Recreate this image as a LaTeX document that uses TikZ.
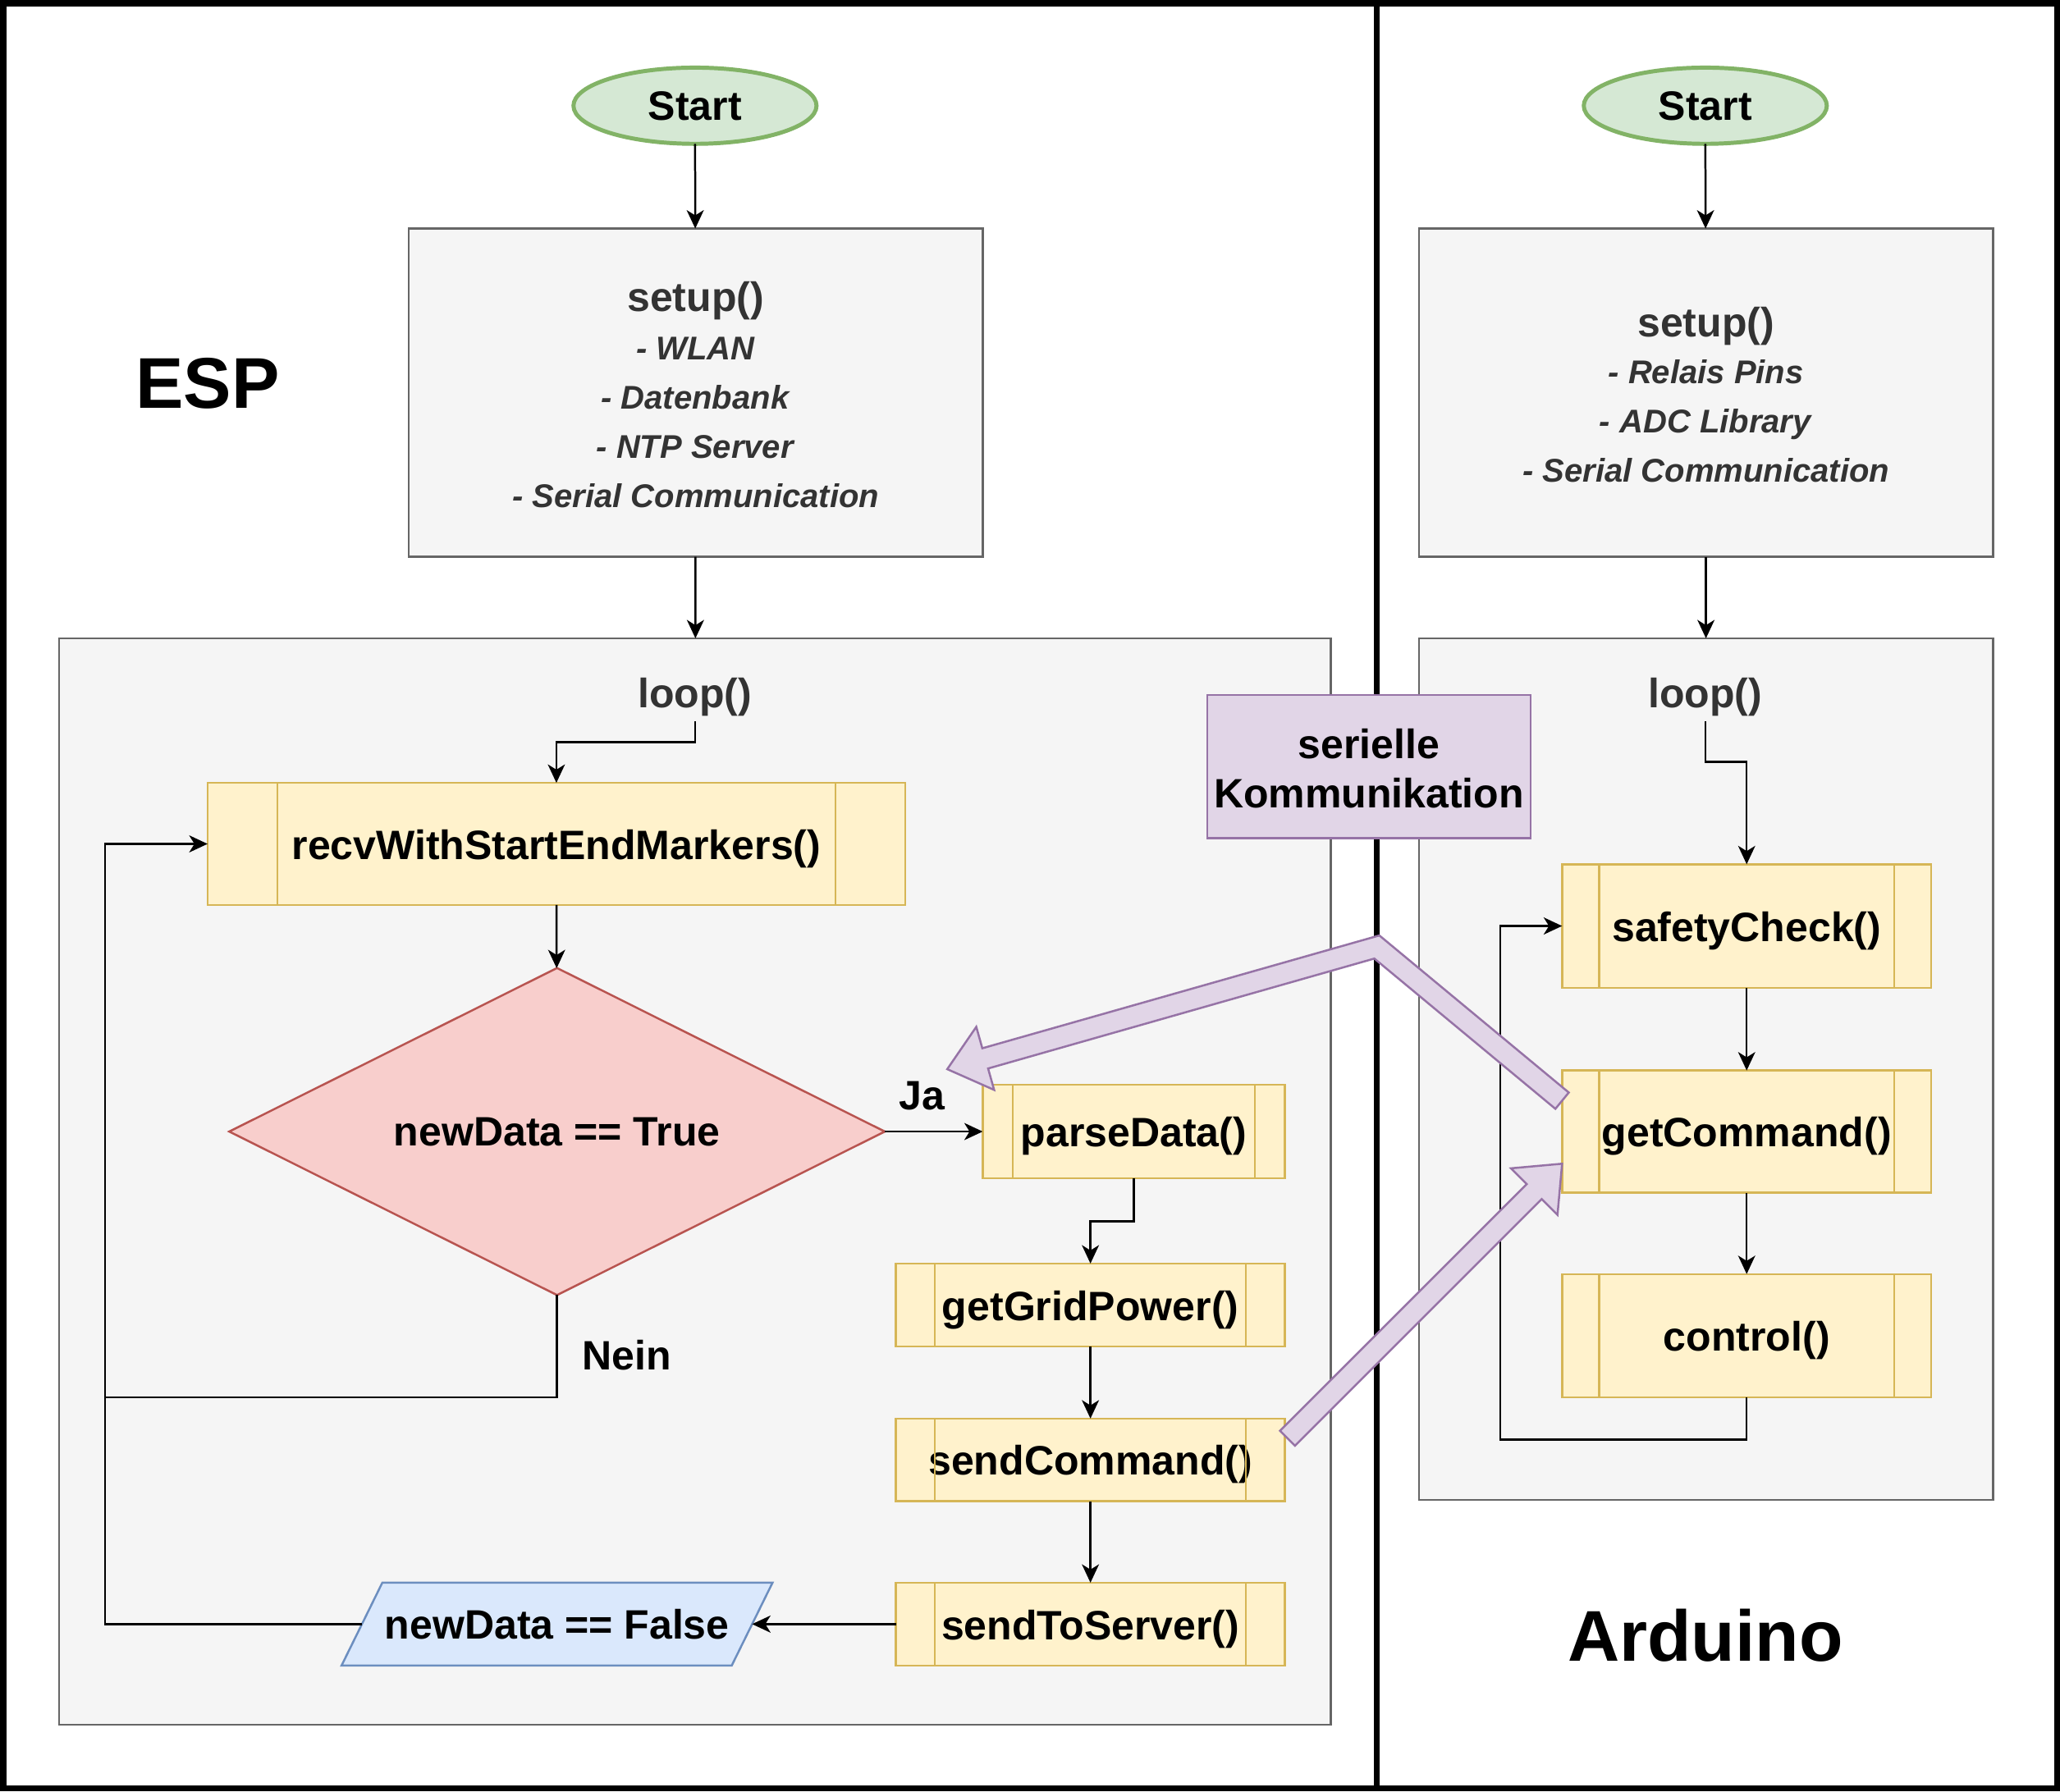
\documentclass[tikz,border=0pt]{standalone}
\usepackage{fontspec}
\setmainfont{Liberation Sans}
\usetikzlibrary{shapes.geometric,arrows.meta,calc}
\definecolor{gfill}{HTML}{D5E8D4}
\definecolor{gstroke}{HTML}{82B366}
\definecolor{grayfill}{HTML}{F5F5F5}
\definecolor{graystroke}{HTML}{666666}
\definecolor{darktext}{HTML}{333333}
\definecolor{yfill}{HTML}{FFF2CC}
\definecolor{ystroke}{HTML}{D6B656}
\definecolor{rfill}{HTML}{F8CECC}
\definecolor{rstroke}{HTML}{B85450}
\definecolor{bfill}{HTML}{DAE8FC}
\definecolor{bstroke}{HTML}{6C8EBF}
\definecolor{pfill}{HTML}{E1D5E7}
\definecolor{pstroke}{HTML}{9673A6}
\newcommand\proclines[1]{%
  \draw[line width=1.56pt, draw=ystroke]
    ($(#1.north west)!0.1!(#1.north east)$) -- ($(#1.south west)!0.1!(#1.south east)$)
    ($(#1.north west)!0.9!(#1.north east)$) -- ($(#1.south west)!0.9!(#1.south east)$);}
\tikzset{
  every node/.style={font=\bfseries\fontsize{31.25}{37.5}\selectfont, inner sep=0pt, outer sep=0pt, align=center},
  capcenter/.style={text height=23.4pt, text depth=0pt},
  startnode/.style={ellipse, draw=gstroke, fill=gfill, line width=3.1pt, minimum width=185pt, minimum height=58pt},
  graybox/.style={rectangle, draw=graystroke, fill=grayfill, line width=1.56pt, text=darktext},
  procbox/.style={rectangle, draw=ystroke, fill=yfill, line width=1.56pt, capcenter},
  decision/.style={diamond, shape aspect=2, draw=rstroke, fill=rfill, line width=1.56pt},
  iobox/.style={draw=bstroke, fill=bfill, line width=1.56pt},
  commbox/.style={rectangle, draw=pstroke, fill=pfill, line width=1.56pt},
  flexarrow/.style={draw=pstroke, fill=pfill, line width=1.56pt, line join=miter},
  arr/.style={line width=1.56pt, -{Stealth[length=14pt,width=13pt,inset=4pt]}},
  ln/.style={line width=1.56pt},
  looplabel/.style={text=darktext, minimum height=44pt, capcenter},
  bigtitle/.style={font=\bfseries\fontsize{54.7}{60}\selectfont},
  setuptext/.style={font=\bfseries\fontsize{25}{37.5}\selectfont},
}
\begin{document}
\begin{tikzpicture}[x=1pt,y=-1pt]
\useasboundingbox (0,0) rectangle (1568,1364);
\fill[white] (0,0) rectangle (1568,1364);
% frame and divider
\draw[line width=4.7pt] (2.35,2.35) rectangle (1565.65,1361.65);
\draw[line width=4.7pt] (1048,2) -- (1048,1362);

% ---------------- ESP ----------------
\node[bigtitle] (esp) at (158,292) {ESP};
\node[startnode] (startL) at (529,80.5) {Start};
\node[graybox, setuptext, minimum width=437pt, minimum height=250pt] (setupL) at (529.5,299)
  {{\fontsize{31.25}{37.5}\selectfont\rule{0pt}{25.8pt}setup()}\\[-0.5pt]
   \textit{- WLAN}\\ \textit{- Datenbank}\\ \textit{- NTP Server}\\ \textit{- Serial Communication}};
\node[graybox, minimum width=968pt, minimum height=827pt] (loopL) at (529,899.5) {};
\node[looplabel] (lpL) at (529,527) {loop()};

\node[procbox, minimum width=531pt, minimum height=93pt] (recv) at (423.5,642.5) {recvWithStartEndMarkers()};
\proclines{recv}
\node[decision, minimum width=499pt, minimum height=249pt] (dia) at (424,861.5) {newData == True};
\node[procbox, minimum width=230pt, minimum height=71pt] (parse) at (863,861.5) {parseData()};
\proclines{parse}
\node[procbox, minimum width=296pt, minimum height=63pt] (grid) at (830,993.5) {getGridPower()};
\proclines{grid}
\node[procbox, minimum width=296pt, minimum height=63pt] (sendC) at (830,1111.5) {sendCommand()};
\proclines{sendC}
\node[procbox, minimum width=296pt, minimum height=63pt] (sendS) at (830,1236.5) {sendToServer()};
\proclines{sendS}
\draw[iobox] (260,1268) -- (557,1268) -- (588,1205) -- (291,1205) -- cycle;
\node[minimum width=297pt, minimum height=63pt] (nf) at (424,1236.5) {newData == False};
\node (ja) at (702,834) {Ja};
\node (nein) at (477,1032) {Nein};
\coordinate (lx) at (80,1064);

\draw[arr] (startL) -- (setupL);
\draw[arr] (setupL) -- (loopL);
\draw[arr] (lpL.south) -- ++(0,16) -| (recv.north);
\draw[arr] (recv) -- (dia);
\draw[arr] (dia.east) -- (parse.west);
\draw[arr] (parse.south) -- ++(0,33) -| (grid.north);
\draw[arr] (grid) -- (sendC);
\draw[arr] (sendC) -- (sendS);
\draw[arr] (sendS.west) -- (nf.east);
\draw[arr] (nf.west) -| (lx) |- (recv.west);
\draw[ln] (dia.south) |- (lx);

% ---------------- Arduino ----------------
\node[bigtitle] (ard) at (1298,1245) {Arduino};
\node[startnode] (startR) at (1298,80.5) {Start};
\node[graybox, setuptext, minimum width=437pt, minimum height=250pt] (setupR) at (1298.5,299)
  {{\fontsize{31.25}{37.5}\selectfont\rule{0pt}{25.8pt}setup()}\\[-1.5pt]
   \textit{- Relais Pins}\\ \textit{- ADC Library}\\ \textit{- Serial Communication}};
\node[graybox, minimum width=437pt, minimum height=656pt] (loopR) at (1298.5,814) {};
\node[looplabel] (lpR) at (1298,527) {loop()};
\node[procbox, minimum width=281pt, minimum height=94pt] (safety) at (1329.5,705) {safetyCheck()};
\proclines{safety}
\node[procbox, minimum width=281pt, minimum height=93pt] (getC) at (1329.5,861.5) {getCommand()};
\proclines{getC}
\node[procbox, minimum width=281pt, minimum height=94pt] (ctrl) at (1329.5,1017) {control()};
\proclines{ctrl}
\coordinate (rx) at (1142,1096);

\draw[arr] (startR) -- (setupR);
\draw[arr] (setupR) -- (loopR);
\draw[arr] (lpR.south) -- ++(0,31) -| (safety.north);
\draw[arr] (safety) -- (getC);
\draw[arr] (getC) -- (ctrl);
\draw[arr] (ctrl.south) -- ++(0,32) -| (rx) |- (safety.west);

% ---------------- serial communication ----------------
\node[commbox, minimum width=246pt, minimum height=109pt] (ser) at (1042,583.5) {\rule{0pt}{26.4pt}serielle\\Kommunikation};
% flex arrow getCommand -> parseData (bent)
\draw[flexarrow] (1194.1,831.8) -- (1049.9,712.2) -- (747.7,798.1) -- (743.1,781.8) -- (721,814)
  -- (756.7,829.8) -- (752.1,813.5) -- (1046.1,729.8) -- (1183.9,844.2) -- cycle;
% flex arrow sendCommand -> getCommand
\draw[flexarrow] (974.3,1089.3) -- (1162.1,901.5) -- (1150.1,889.5) -- (1189,886) -- (1185.5,924.9)
  -- (1173.5,912.9) -- (985.7,1100.7) -- cycle;
\end{tikzpicture}
\end{document}
